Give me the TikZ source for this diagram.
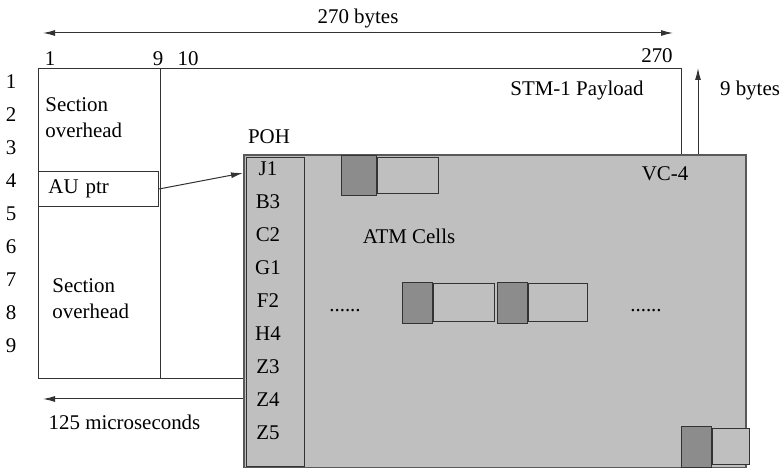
\documentclass[tikz,border=0pt]{standalone}
\usepackage{fontspec}
\setmainfont{Liberation Serif}
\usetikzlibrary{arrows.meta,positioning}

\definecolor{vcgray}{gray}{0.75}
\definecolor{hdrgray}{gray}{0.55}

\begin{document}
\begin{tikzpicture}[
    x=0.5bp, y=-0.5bp,
    every node/.style={font=\fontsize{10.5}{13}\selectfont, inner sep=0pt},
    lbl/.style={text height=7bp, text depth=0pt},
    frame/.style={draw=black!80, line width=0.5pt},
    vcbox/.style={draw=black!65, fill=vcgray, line width=0.8pt},
    hdr/.style={draw=black!80, fill=hdrgray, line width=0.5pt,
      minimum width=15bp, minimum height=20.5bp},
    body/.style={draw=black!80, fill=vcgray, line width=0.5pt,
      minimum width=30.5bp, minimum height=19bp},
    flow/.style={-{Latex[length=6bp, width=3bp]}, line width=0.5pt, draw=black!80}
  ]
    \useasboundingbox (0,0) rectangle (782,468);

    % STM-1 frame
    \node[frame, anchor=north west, minimum width=321.5bp, minimum height=155bp] (stm) at (38,68) {};
    \draw[frame] ([xshift=61bp]stm.north west) -- ([xshift=61bp]stm.south west);
    \node[frame, anchor=north west, minimum width=60bp, minimum height=17.5bp,
      text width=50bp, inner xsep=5bp, align=left] (aup) at (38,171) {AU ptr};
    \node[anchor=north west, align=left] (soh1) at (45,97) {Section\\overhead};
    \node[anchor=north west, align=left] (soh2) at (52,278) {Section\\overhead};
    \node[lbl] (payload) at (577,89) {STM-1 Payload};

    % column and row numbers
    \node[lbl] (c1) at (50,59) {1};
    \node[lbl] (c9) at (158,59) {9};
    \node[lbl] (c10) at (188,59) {10};
    \node[lbl] (c270) at (657,56) {270};
    \foreach \n in {1,...,9}
      \node[lbl] (r\n) at (11,{49+33*\n}) {\n};

    % VC-4 container
    \node[vcbox, anchor=north west, minimum width=251bp, minimum height=156.5bp] (vc) at (243,154) {};
    \node[frame, anchor=north west, minimum width=29bp, minimum height=154.5bp] (poh) at (246,157) {};
    \node[lbl] (pohlbl) at (269,137) {POH};
    \foreach \lab [count=\n] in {J1,B3,C2,G1,F2,H4,Z3,Z4,Z5}
      \node[lbl] (\lab) at (268,{136+33*\n}) {\lab};
    \node[lbl] (vclbl) at (665,174) {VC-4};
    \node[lbl] (atm) at (409,237) {ATM Cells};

    % ATM cells
    \node[hdr, anchor=north west, minimum width=17.5bp, minimum height=20bp] (h1) at (341,155) {};
    \node[body, right=0pt of h1, minimum height=18bp] (b1) {};
    \node[hdr, anchor=north west] (h2) at (402,282) {};
    \node[body, right=0pt of h2] (b2) {};
    \node[hdr, anchor=north west] (h3) at (497,282) {};
    \node[body, right=0pt of h3, minimum width=29.5bp] (b3) {};
    \node[hdr, anchor=north west] (h4) at (681,426) {};
    \node[body, right=0pt of h4, minimum width=18.5bp, minimum height=18bp] (b4) {};
    \node[anchor=base] (dotsl) at (345,312) {......};
    \node[anchor=base] (dotsr) at (646,312) {......};

    % dimensions
    \coordinate (wl) at (43,33);
    \coordinate (wr) at (673,33);
    \draw[flow, {Latex[length=6bp, width=3bp]}-{Latex[length=6bp, width=3bp]}] (wl) -- (wr);
    \node[lbl] (width) at (358,16.5) {270 bytes};
    \coordinate (htop) at (698,68);
    \draw[flow] (vc.north -| htop) -- (htop);
    \node[lbl] (height) at (750,89) {9 bytes};
    \coordinate (tend) at (43,399);
    \draw[flow] (vc.west |- tend) -- (tend);
    \node[lbl] (time) at (124.5,423) {125 microseconds};

    \draw[flow] (aup.east) -- ([yshift=-2bp]J1.west -| vc.west);
  \end{tikzpicture}
\end{document}
